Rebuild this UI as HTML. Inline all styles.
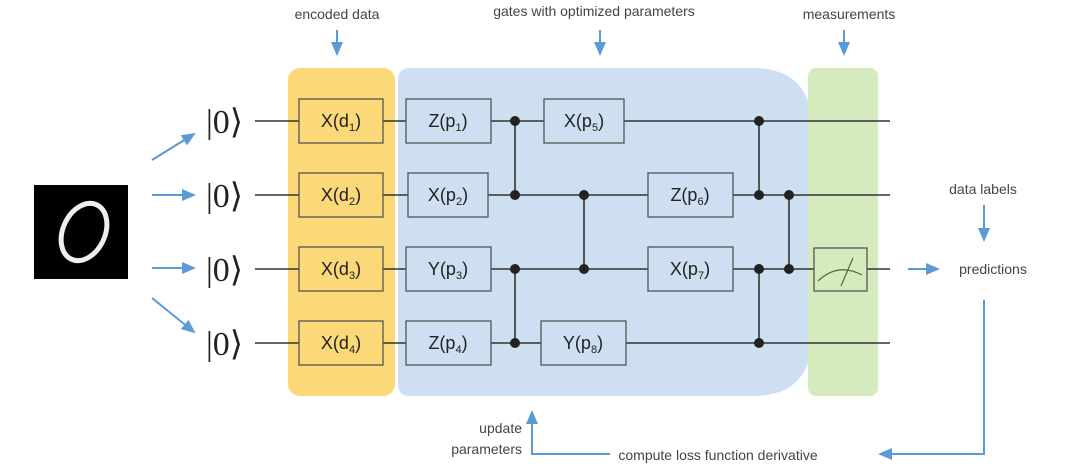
<!DOCTYPE html>
<html><head><meta charset="utf-8"><style>
body{margin:0;background:#fff;}
svg{display:block;font-family:"Liberation Sans",sans-serif;}
</style></head><body>
<svg width="1080" height="476" viewBox="0 0 1080 476" xmlns="http://www.w3.org/2000/svg">
<defs><marker id="a" markerWidth="8" markerHeight="8" refX="6" refY="3" orient="auto"><path d="M0,0 L7,3 L0,6 z" fill="#5b9bd5"/></marker></defs>
<rect x="288" y="68" width="107" height="328" rx="12" fill="#fbd978"/>
<path d="M410,68 H752 Q812,68 812,128 V336 Q812,396 752,396 H410 Q398,396 398,384 V80 Q398,68 410,68 Z" fill="#cddff0"/>
<rect x="808" y="68" width="70" height="328" rx="8" fill="#d6ebbd"/>
<g stroke="#333" stroke-width="1.6">
<line x1="255" y1="121" x2="890" y2="121"/><line x1="255" y1="195" x2="890" y2="195"/>
<line x1="255" y1="269" x2="890" y2="269"/><line x1="255" y1="343" x2="890" y2="343"/>
<line x1="515" y1="121" x2="515" y2="195"/><line x1="515" y1="269" x2="515" y2="343"/>
<line x1="584" y1="195" x2="584" y2="269"/><line x1="759" y1="121" x2="759" y2="195"/>
<line x1="759" y1="269" x2="759" y2="343"/><line x1="789" y1="195" x2="789" y2="269"/>
</g>
<g fill="#222"><circle cx="515" cy="121" r="5"/><circle cx="515" cy="195" r="5"/><circle cx="515" cy="269" r="5"/><circle cx="515" cy="343" r="5"/><circle cx="584" cy="195" r="5"/><circle cx="584" cy="269" r="5"/><circle cx="759" cy="121" r="5"/><circle cx="759" cy="195" r="5"/><circle cx="759" cy="269" r="5"/><circle cx="759" cy="343" r="5"/><circle cx="789" cy="195" r="5"/><circle cx="789" cy="269" r="5"/></g>
<g stroke="#555" stroke-width="1.3">
<rect x="299" y="99" width="84" height="44" fill="#fbd978"/><rect x="299" y="173" width="84" height="44" fill="#fbd978"/>
<rect x="299" y="247" width="84" height="44" fill="#fbd978"/><rect x="299" y="321" width="84" height="44" fill="#fbd978"/>
<rect x="406" y="99" width="85" height="44" fill="#cddff0"/><rect x="408" y="173" width="80" height="44" fill="#cddff0"/>
<rect x="406" y="247" width="85" height="44" fill="#cddff0"/><rect x="406" y="321" width="85" height="44" fill="#cddff0"/>
<rect x="544" y="99" width="80" height="44" fill="#cddff0"/><rect x="541" y="321" width="85" height="44" fill="#cddff0"/>
<rect x="648" y="173" width="85" height="44" fill="#cddff0"/><rect x="648" y="247" width="85" height="44" fill="#cddff0"/>
<rect x="814" y="248" width="53" height="43" fill="#d6ebbd"/>
</g>
<path d="M818,281 Q838,262 862,275" stroke="#4a6a30" fill="none" stroke-width="1.2"/><line x1="841" y1="286" x2="853" y2="258" stroke="#4a6a30" stroke-width="1.2"/>
<g font-size="18" fill="#222" text-anchor="middle">
<text x="341" y="127">X(d<tspan font-size="11" dy="4">1</tspan><tspan dy="-4">)</tspan></text>
<text x="341" y="201">X(d<tspan font-size="11" dy="4">2</tspan><tspan dy="-4">)</tspan></text>
<text x="341" y="275">X(d<tspan font-size="11" dy="4">3</tspan><tspan dy="-4">)</tspan></text>
<text x="341" y="349">X(d<tspan font-size="11" dy="4">4</tspan><tspan dy="-4">)</tspan></text>
<text x="448" y="127">Z(p<tspan font-size="11" dy="4">1</tspan><tspan dy="-4">)</tspan></text>
<text x="448" y="201">X(p<tspan font-size="11" dy="4">2</tspan><tspan dy="-4">)</tspan></text>
<text x="448" y="275">Y(p<tspan font-size="11" dy="4">3</tspan><tspan dy="-4">)</tspan></text>
<text x="448" y="349">Z(p<tspan font-size="11" dy="4">4</tspan><tspan dy="-4">)</tspan></text>
<text x="584" y="127">X(p<tspan font-size="11" dy="4">5</tspan><tspan dy="-4">)</tspan></text>
<text x="690" y="201">Z(p<tspan font-size="11" dy="4">6</tspan><tspan dy="-4">)</tspan></text>
<text x="690" y="275">X(p<tspan font-size="11" dy="4">7</tspan><tspan dy="-4">)</tspan></text>
<text x="583" y="349">Y(p<tspan font-size="11" dy="4">8</tspan><tspan dy="-4">)</tspan></text>
</g>
<g font-family="Liberation Serif,serif" font-size="34" fill="#222">
<text x="206" y="133">|0⟩</text><text x="206" y="207">|0⟩</text><text x="206" y="281">|0⟩</text><text x="206" y="355">|0⟩</text>
</g>
<rect x="34" y="185" width="94" height="94" fill="#000"/>
<ellipse cx="84" cy="232" rx="21" ry="30" transform="rotate(25 84 232)" fill="none" stroke="#eee" stroke-width="5"/>
<g stroke="#5b9bd5" stroke-width="2" fill="none" marker-end="url(#a)">
<line x1="152" y1="160" x2="194" y2="134"/><line x1="152" y1="195" x2="194" y2="195"/>
<line x1="152" y1="268" x2="194" y2="268"/><line x1="152" y1="298" x2="194" y2="332"/>
<line x1="337" y1="30" x2="337" y2="54"/><line x1="600" y1="30" x2="600" y2="54"/><line x1="844" y1="30" x2="844" y2="54"/>
<line x1="984" y1="205" x2="984" y2="240"/><line x1="908" y1="269" x2="938" y2="269"/>
<polyline points="984,300 984,454 880,454"/><polyline points="610,454 532,454 532,412"/>
</g>
<g font-size="14" fill="#444" text-anchor="middle">
<text x="337" y="19">encoded data</text><text x="594" y="16">gates with optimized parameters</text>
<text x="849" y="19">measurements</text><text x="983" y="194">data labels</text>
<text x="993" y="274">predictions</text><text x="718" y="460">compute loss function derivative</text>
<text x="522" y="433" text-anchor="end">update</text><text x="522" y="454" text-anchor="end">parameters</text>
</g>
</svg>
</body></html>
